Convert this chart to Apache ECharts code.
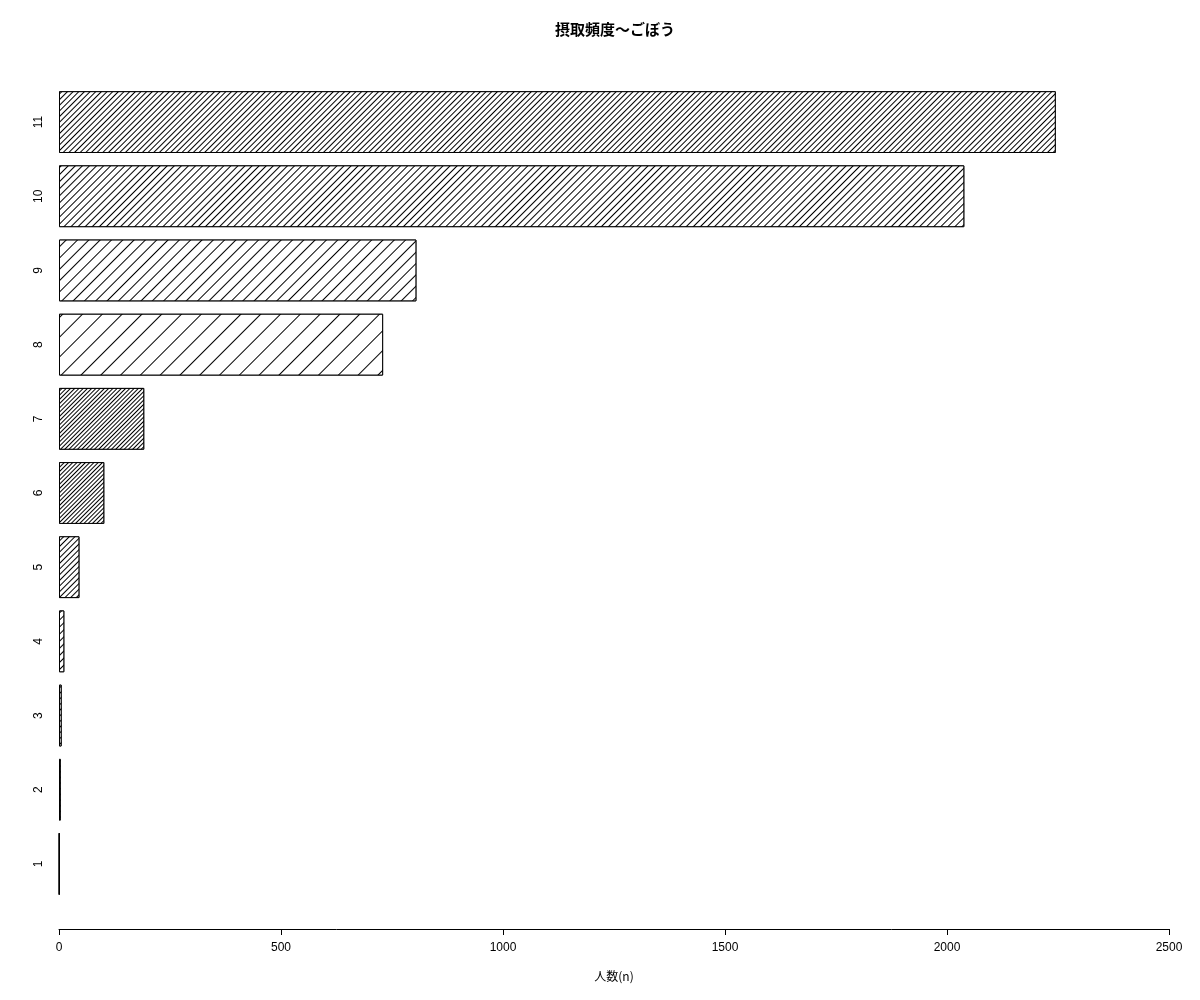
<!DOCTYPE html>
<html>
<head>
<meta charset="utf-8">
<script src="https://cdn.jsdelivr.net/npm/echarts@6/dist/echarts.min.js"></script>
<style>
html,body{margin:0;padding:0;background:#fff;}
#chart{width:1200px;height:1000px;}
</style>
</head>
<body>
<div id="chart"></div>
<script>
const categories = ['1','2','3','4','5','6','7','8','9','10','11'];
const values = [1, 4, 6, 12, 46, 102, 192, 730, 805, 2039, 2245];
const hatchSpacing = [4, 4, 3.5, 4.2, 3.2, 2.8, 2.1, 14, 7.6, 4.6, 3.1];
const xTicks = { min: 0, max: 2500, interval: 500 };
const titleText = '摂取頻度〜ごぼう';
const xName = '人数(n)';

const chart = echarts.init(document.getElementById('chart'), null, { renderer: 'canvas' });

const data = values.map((v, i) => ({
  value: v,
  itemStyle: {
    color: '#ffffff',
    borderColor: '#000000',
    borderWidth: 1,
    decal: {
      symbol: 'rect',
      symbolSize: 1,
      color: '#000000',
      backgroundColor: '#ffffff',
      dashArrayX: [1, 0],
      dashArrayY: [1, Math.max(0.8, hatchSpacing[i] - 1)],
      rotation: -Math.PI / 4
    }
  }
}));

chart.setOption({
  animation: false,
  backgroundColor: '#ffffff',
  aria: { enabled: true, decal: { show: true } },
  title: {
    text: titleText,
    left: 550,
    top: 17,
    textStyle: { fontFamily: 'Noto Sans CJK JP', fontSize: 15, fontWeight: 'bold', color: '#000' }
  },
  grid: { left: 59, right: 31, top: 85, bottom: 99, containLabel: false },
  xAxis: {
    type: 'value',
    min: xTicks.min,
    max: xTicks.max,
    interval: xTicks.interval,
    offset: 28,
    name: xName,
    nameLocation: 'middle',
    nameGap: 41,
    nameTextStyle: { fontFamily: 'Noto Sans CJK JP', fontSize: 12, color: '#000' },
    axisLine: { show: true, lineStyle: { color: '#000', width: 1 } },
    axisTick: { show: true, length: 6, lineStyle: { color: '#000' } },
    axisLabel: { margin: 13, fontFamily: 'Liberation Sans', fontSize: 12, color: '#000', formatter: v => String(v) },
    splitLine: { show: false }
  },
  yAxis: {
    type: 'category',
    data: categories,
    axisLine: { show: false },
    axisTick: { show: false },
    axisLabel: { rotate: 90, margin: 14, fontFamily: 'Liberation Sans', fontSize: 12, color: '#000' },
    splitLine: { show: false }
  },
  series: [{
    type: 'bar',
    data: data,
    barCategoryGap: '16.7%',
    silent: true
  }]
});
</script>
</body>
</html>
